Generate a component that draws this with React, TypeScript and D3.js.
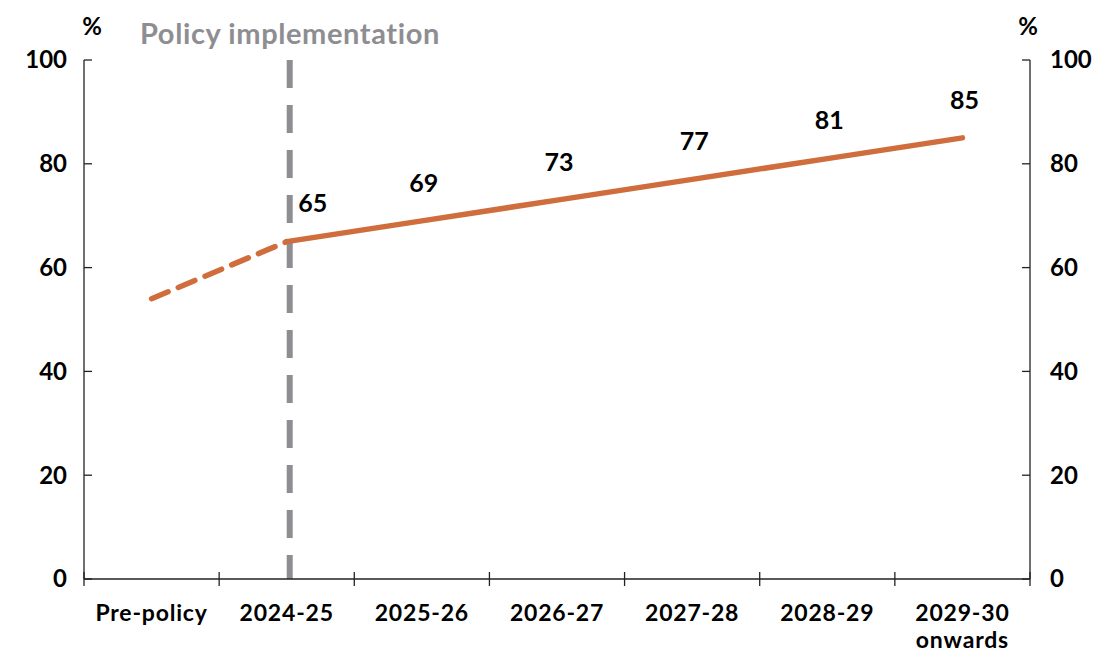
import React from "react";
import * as d3 from "d3";

const categories = ["Pre-policy", "2024-25", "2025-26", "2026-27", "2027-28", "2028-29", "2029-30"];
const categorySubLabels = ["", "", "", "", "", "", "onwards"];
const values = [54, 65, 69, 73, 77, 81, 85];
const valueLabels = ["", "65", "69", "73", "77", "81", "85"];
const yTicks = [0, 20, 40, 60, 80, 100];
const policyCategory = "2024-25";
const policyText = "Policy implementation";

const W = 1106, H = 657;
const margin = { left: 84, right: 76, top: 60, bottom: 78 };
const FONT = "Lato, 'Open Sans', sans-serif";
const ORANGE = "#CF6E3C";
const GREY = "#8E8E92";

export default function App() {
  const x = d3.scaleBand<string>().domain(categories).range([margin.left, W - margin.right]).padding(0);
  const y = d3.scaleLinear().domain([0, 100]).range([H - margin.bottom, margin.top]);
  const cx = (c: string) => (x(c) as number) + x.bandwidth() / 2;
  const pts = categories.map((c, i) => [cx(c), y(values[i])] as [number, number]);
  const line = d3.line();
  const dashedPath = line(pts.slice(0, 2)) as string;
  const solidPath = line(pts.slice(1)) as string;
  const x0 = margin.left, x1 = W - margin.right, yb = y(0), yt = y(100);
  const boundaries = categories.map((c) => x(c) as number).concat([x1]);
  const px = cx(policyCategory) + 3;

  return (
    <svg width={W} height={H} style={{ display: "block", position: "absolute", left: 0, top: 0 }} fontFamily={FONT}>
      <rect width={W} height={H} fill="#fff" />
      {/* policy line */}
      <line x1={px} x2={px} y1={yt} y2={yb} stroke={GREY} strokeWidth={6} strokeDasharray="28,17" />
      <text x={140} y={44} fontSize={29} fontWeight={700} letterSpacing={0.6} fill={GREY}>{policyText}</text>
      {/* axes */}
      <line x1={x0} x2={x0} y1={yt} y2={yb} stroke="#222" strokeWidth={1.3} />
      <line x1={x1} x2={x1} y1={yt} y2={yb} stroke="#222" strokeWidth={1.3} />
      <line x1={x0} x2={x1} y1={yb} y2={yb} stroke="#222" strokeWidth={1.3} />
      {yTicks.map((t) => (
        <g key={t}>
          <line x1={x0} x2={x0 + 8} y1={y(t)} y2={y(t)} stroke="#222" strokeWidth={1.3} />
          <line x1={x1 - 8} x2={x1} y1={y(t)} y2={y(t)} stroke="#222" strokeWidth={1.3} />
          <text x={67} y={y(t)} dy="0.35em" textAnchor="end" fontSize={24} fontWeight={700} fill="#000">{t}</text>
          <text x={1050} y={y(t)} dy="0.35em" textAnchor="start" fontSize={24} fontWeight={700} fill="#000">{t}</text>
        </g>
      ))}
      {boundaries.map((b, i) => (
        <line key={i} x1={b} x2={b} y1={yb - 7} y2={yb + 7} stroke="#222" strokeWidth={1.3} />
      ))}
      <text x={92} y={35} textAnchor="middle" fontSize={24} fontWeight={700}>%</text>
      <text x={1028} y={35} textAnchor="middle" fontSize={24} fontWeight={700}>%</text>
      {categories.map((c, i) => (
        <g key={c}>
          <text x={cx(c)} y={621} textAnchor="middle" fontSize={23} fontWeight={700} letterSpacing={0.8}>{c}</text>
          {categorySubLabels[i] && (
            <text x={cx(c)} y={648} textAnchor="middle" fontSize={23} fontWeight={700} letterSpacing={0.8}>{categorySubLabels[i]}</text>
          )}
        </g>
      ))}
      {/* lines */}
      <path d={dashedPath} fill="none" stroke={ORANGE} strokeWidth={5.5} strokeDasharray="18,11" strokeLinecap="round" />
      <path d={solidPath} fill="none" stroke={ORANGE} strokeWidth={5.5} strokeLinecap="round" />
      {categories.map((c, i) =>
        valueLabels[i] ? (
          <text key={c} x={cx(c) + (i === 1 ? 26 : 2)} y={y(values[i]) - 38} dy="0.35em" textAnchor="middle" fontSize={25} fontWeight={700}>
            {valueLabels[i]}
          </text>
        ) : null
      )}
    </svg>
  );
}
